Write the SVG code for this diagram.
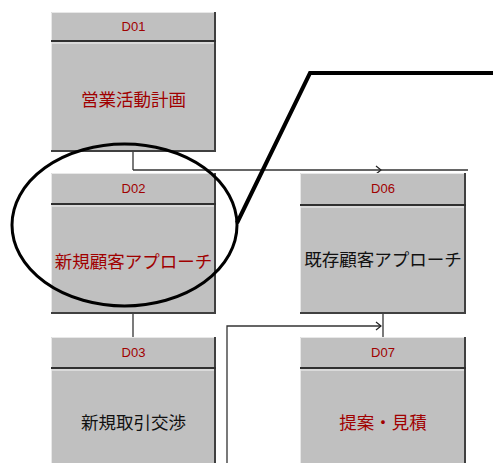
<svg xmlns="http://www.w3.org/2000/svg" width="493" height="463" viewBox="0 0 493 463">
<style>
.box{fill:#c0c0c0;}
.hi{stroke:#e8e8e8;stroke-width:1;fill:none;}
.dk{stroke:#404040;stroke-width:2;fill:none;}
.sep{stroke:#303030;stroke-width:2;}
.sepw{stroke:#f4f4f4;stroke-width:1;}
.id{font-family:"Liberation Sans",Arial,sans-serif;font-size:13px;fill:#a00000;text-anchor:middle;}
.lbl{font-family:"Noto Sans CJK JP","Noto Sans",sans-serif;font-size:17.5px;text-anchor:middle;}
.red{fill:#a00000;}
.blk{fill:#111;}
.conn{stroke:#333;stroke-width:1.3;fill:none;}
.callout{stroke:#000;fill:none;}
</style>
<defs>
<marker id="arr" markerWidth="8" markerHeight="10" refX="6" refY="5" orient="auto" markerUnits="userSpaceOnUse">
<path d="M1,1 L6,5 L1,9" fill="none" stroke="#222" stroke-width="1.2"/>
</marker>
</defs>
<g id="connectors">
<path class="conn" d="M133,151 V170"/>
<path class="conn" d="M133,170 H381" marker-end="url(#arr)"/>
<path class="conn" d="M381,170 H468"/>
<path class="conn" d="M133,313 V337"/>
<path class="conn" d="M383,313 V337"/>
<path class="conn" d="M227,463 V326 H381" marker-end="url(#arr)"/>
</g>
<g id="D01">
<rect class="box" x="51" y="12" width="165" height="139"/>
<path class="hi" d="M51.5,150 V12.5 H215"/>
<path class="dk" d="M215,12 V151 H51"/>
<line class="sep" x1="51" y1="41" x2="216" y2="41"/>
<line class="sepw" x1="52" y1="43" x2="214" y2="43"/>
<text class="id" x="133.5" y="31">D01</text>
<text class="lbl red" x="133.5" y="106">営業活動計画</text>
</g>
<g id="D02">
<rect class="box" x="51" y="173" width="165" height="140"/>
<path class="hi" d="M51.5,312 V173.5 H215"/>
<path class="dk" d="M215,173 V313 H51"/>
<line class="sep" x1="51" y1="204" x2="216" y2="204"/>
<line class="sepw" x1="52" y1="206" x2="214" y2="206"/>
<text class="id" x="133.5" y="193">D02</text>
<text class="lbl red" x="133.5" y="268">新規顧客アプローチ</text>
</g>
<g id="D03">
<rect class="box" x="51" y="337" width="165" height="130"/>
<path class="hi" d="M51.5,467 V337.5 H215"/>
<path class="dk" d="M215,337 V467"/>
<line class="sep" x1="51" y1="368" x2="216" y2="368"/>
<line class="sepw" x1="52" y1="370" x2="214" y2="370"/>
<text class="id" x="133.5" y="357">D03</text>
<text class="lbl blk" x="133.5" y="429">新規取引交渉</text>
</g>
<g id="D06">
<rect class="box" x="300" y="173" width="166" height="140"/>
<path class="hi" d="M300.5,312 V173.5 H465"/>
<path class="dk" d="M465,173 V313 H300"/>
<line class="sep" x1="300" y1="205" x2="466" y2="205"/>
<line class="sepw" x1="301" y1="207" x2="464" y2="207"/>
<text class="id" x="383" y="193">D06</text>
<text class="lbl blk" x="383" y="266">既存顧客アプローチ</text>
</g>
<g id="D07">
<rect class="box" x="300" y="337" width="166" height="130"/>
<path class="hi" d="M300.5,467 V337.5 H465"/>
<path class="dk" d="M465,337 V467"/>
<line class="sep" x1="300" y1="368" x2="466" y2="368"/>
<line class="sepw" x1="301" y1="370" x2="464" y2="370"/>
<text class="id" x="383" y="357">D07</text>
<text class="lbl red" x="383" y="429">提案・見積</text>
</g>
<g id="callout">
<ellipse class="callout" cx="124.5" cy="225" rx="112.5" ry="81" stroke-width="3"/>
<path class="callout" d="M237,223 L310,73 H493" stroke-width="4"/>
</g>
</svg>
